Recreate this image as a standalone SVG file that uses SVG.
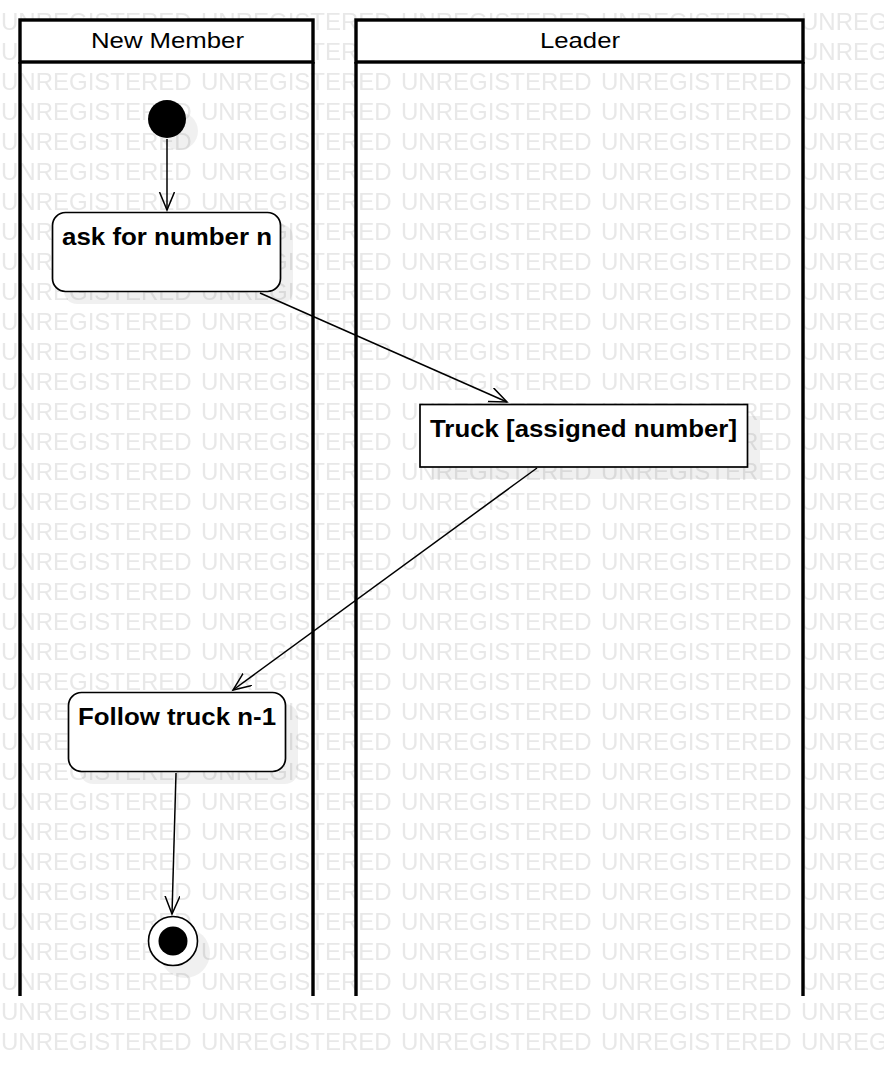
<svg xmlns="http://www.w3.org/2000/svg" width="884" height="1076" viewBox="0 0 884 1076">
<defs>
<style>
.wm{font-family:"Liberation Sans",Arial,sans-serif;font-size:24px;fill:#e8e8e8}
.lane{fill:none;stroke:#000;stroke-width:3.4}
.head{fill:#fff;stroke:#000;stroke-width:3.4}
.htxt{font-family:"Liberation Sans",Arial,sans-serif;font-size:22px;fill:#000}
.ntxt{font-family:"Liberation Sans",Arial,sans-serif;font-size:23px;font-weight:bold;fill:#000}
.node{fill:#fff;stroke:#000;stroke-width:1.7}
.shadow{fill:#000;fill-opacity:0.06;stroke:none}
.edge{fill:none;stroke:#000;stroke-width:1.5}
</style>
<pattern id="wmp" x="0" y="0" width="200" height="30" patternUnits="userSpaceOnUse">
<text class="wm" x="1" y="30">UNREGISTERED</text>
</pattern>
<marker id="arr" markerUnits="userSpaceOnUse" markerWidth="22" markerHeight="20" refX="18" refY="8" orient="auto">
<path d="M0,0.5 L18,8 L0,15.5" fill="none" stroke="#000" stroke-width="1.5"/>
</marker>
</defs>
<rect x="0" y="0" width="884" height="1076" fill="#fff"/>
<rect x="0" y="0" width="884" height="1060" fill="url(#wmp)"/>

<g id="lane-new-member">
<path class="lane" d="M20,62 L20,996 M313,62 L313,996"/>
<rect class="head" x="20" y="20" width="293" height="42"/>
<text class="htxt" x="91" y="48" textLength="153" lengthAdjust="spacingAndGlyphs">New Member</text>
</g>
<g id="lane-leader">
<path class="lane" d="M356,62 L356,996 M803,62 L803,996"/>
<rect class="head" x="356" y="20" width="447" height="42"/>
<text class="htxt" x="540" y="48" textLength="80" lengthAdjust="spacingAndGlyphs">Leader</text>
</g>

<g id="connectors">
<line class="edge" x1="167" y1="139" x2="167" y2="210" marker-end="url(#arr)"/>
<line class="edge" x1="260" y1="293" x2="507" y2="402" marker-end="url(#arr)"/>
<line class="edge" x1="537" y1="468" x2="233" y2="690" marker-end="url(#arr)"/>
<line class="edge" x1="176" y1="773" x2="172" y2="914" marker-end="url(#arr)"/>
</g>

<g id="initial">
<circle class="shadow" cx="179" cy="131" r="19"/>
<circle cx="167" cy="119" r="19" fill="#000"/>
</g>

<g id="ask-for-number">
<rect class="shadow" x="64" y="224" width="229" height="80" rx="13"/>
<rect class="node" x="52.5" y="212.5" width="228" height="79" rx="13"/>
<text class="ntxt" x="62" y="245" textLength="210" lengthAdjust="spacingAndGlyphs">ask for number n</text>
</g>

<g id="truck">
<rect class="shadow" x="432" y="416" width="328" height="63"/>
<rect class="node" x="420" y="404.5" width="327.5" height="62.5" stroke-width="2"/>
<text class="ntxt" x="430" y="437" textLength="307" lengthAdjust="spacingAndGlyphs">Truck [assigned number]</text>
</g>

<g id="follow-truck">
<rect class="shadow" x="80" y="704" width="218" height="80" rx="13"/>
<rect class="node" x="68.5" y="692.5" width="217" height="79" rx="13"/>
<text class="ntxt" x="78" y="725" textLength="198" lengthAdjust="spacingAndGlyphs">Follow truck n-1</text>
</g>

<g id="final">
<circle class="shadow" cx="185" cy="953" r="25"/>
<circle cx="173" cy="941" r="24.5" fill="#fff" stroke="#000" stroke-width="1.6"/>
<circle cx="173" cy="941" r="14.5" fill="#000"/>
</g>
</svg>
